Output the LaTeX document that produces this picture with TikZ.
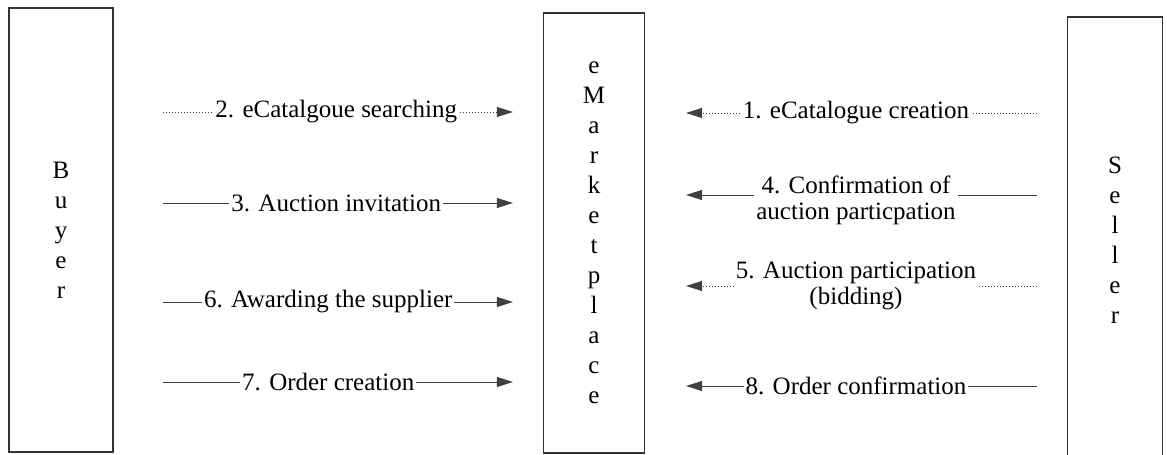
\documentclass[tikz,border=0pt]{standalone}
\usepackage{fontspec}
\setmainfont{Liberation Serif}
\usepackage{tikz}
\usetikzlibrary{arrows.meta,positioning}

\begin{document}
\begin{tikzpicture}[x=0.5pt,y=-0.5pt,
		party/.style={draw=black!80,line width=0.6pt,align=center,inner sep=0pt,text=black,font=\fontsize{12.5}{15}\selectfont},
		flow/.style={draw=black!75,line width=0.5pt,-{Triangle[length=8pt,width=5pt]}},
		lbl/.style={fill=white,inner xsep=1pt,inner ysep=1pt,align=center,text=black,font=\fontsize{12.5}{13}\selectfont}]
			\useasboundingbox (0,0) rectangle (1167,455);
			\clip (0,0) rectangle (1167,455);
			\node[party,minimum width=52pt,minimum height=222pt] (buyer) at (61,230) {B\\u\\y\\e\\r};
			\node[party,minimum width=50.5pt,minimum height=220pt] (market) at (594,233) {e\\M\\a\\r\\k\\e\\t\\p\\l\\a\\c\\e};
			\node[party,minimum width=47.5pt,minimum height=223pt] (seller) at (1115,240) {S\\e\\l\\l\\e\\r};
			\foreach \y/\s/\d/\txt in {112/densely dotted/4/{2. eCatalgoue searching},203/solid/4/{3. Auction invitation},302/solid/0/{6. Awarding the supplier},382/solid/0/{7. Order creation}}
			{
				\coordinate (row) at (0,\y);
				\draw[flow,\s,shorten <=24.5pt,shorten >=15pt] (buyer.east |- row) -- node[lbl,xshift=\d pt] {\txt} (market.west |- row);
			}
			\foreach \y/\s/\d/\txt in {113/densely dotted/0/{1. eCatalogue creation},195/solid/-2.5/{4. Confirmation of\\auction particpation},286/densely dotted/0/{5. Auction participation\\(bidding)},386/solid/0/{8. Order confirmation}}
			{
				\coordinate (row) at (0,\y);
				\draw[flow,\s,shorten <=15pt,shorten >=20.5pt] (seller.west |- row) -- node[lbl,yshift=\d pt] {\txt} (market.east |- row);
			}
		\end{tikzpicture}
\end{document}
